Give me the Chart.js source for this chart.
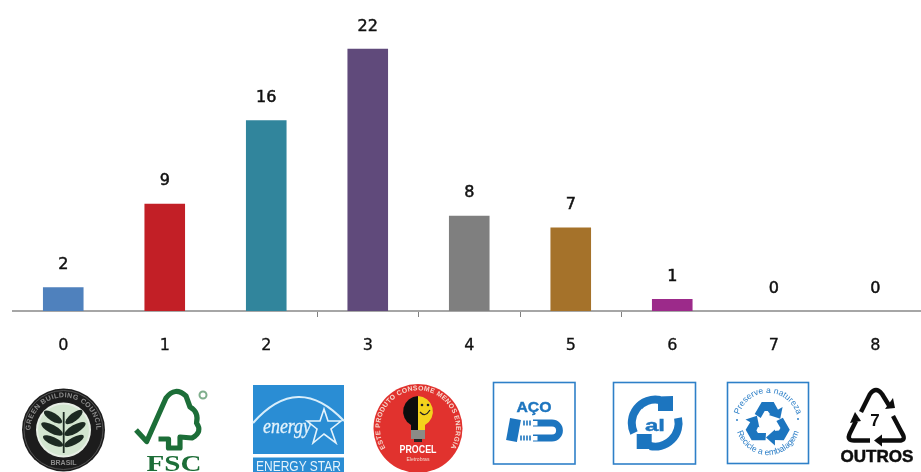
<!DOCTYPE html>
<html><head><meta charset="utf-8">
<style>
html,body{margin:0;padding:0;background:#fff;width:921px;height:472px;overflow:hidden}
#c{position:absolute;left:0;top:0;filter:blur(0.35px)}
#logos{position:absolute;left:0;top:0}
</style>
<script src="https://cdn.jsdelivr.net/npm/chart.js@4"></script>
</head><body>
<canvas id="c" width="930" height="372"></canvas>
<svg id="logos" width="921" height="472" viewBox="0 0 921 472" xmlns="http://www.w3.org/2000/svg">
<defs>
<filter id="b1" x="-10%" y="-10%" width="120%" height="120%"><feGaussianBlur stdDeviation="0.7"/></filter>
<filter id="b2" x="-10%" y="-10%" width="120%" height="120%"><feGaussianBlur stdDeviation="0.35"/></filter>
<path id="gbcTop" d="M35 447 A33 33 0 1 1 92 447"/>
<path id="procTop" d="M390 454 A38 38 0 1 1 446 454"/>
<path id="recTop" d="M738 423 A30 30 0 0 1 798 423"/>
<path id="recBot" d="M736 423 A32 32 0 0 0 800 423"/>
<g id="recArm" fill="#1f75bf">
<path d="M-13 -10 L-6 -22 L6 -22 L11 -13 L3 -9 L0 -13 L-3 -13 L-7 -6 Z"/>
<path d="M14.9 -17 L1.1 -9 L12.5 -5.2 Z"/>
</g>
</defs>
<g filter="url(#b1)">
<!-- Green Building Council -->
<circle cx="63.5" cy="430" r="41.5" fill="#1e1e1e"/>
<circle cx="63.5" cy="430" r="39.5" fill="none" stroke="#5f5f5f" stroke-width="0.8"/>
<circle cx="63.5" cy="430" r="27.5" fill="#e8efe6"/>
<circle cx="63.5" cy="430" r="25.5" fill="#d3e6d0"/>
<text font-family="Liberation Sans" font-size="7" font-weight="bold" fill="#8c8c8c" letter-spacing="0.4"><textPath href="#gbcTop" startOffset="50%" text-anchor="middle">GREEN BUILDING COUNCIL</textPath></text>
<text x="63.5" y="465" text-anchor="middle" font-family="Liberation Sans" font-size="7" font-weight="bold" fill="#8c8c8c">BRASIL</text>
<g fill="#1e2c22">
<path d="M62.8 412 L64.6 412 L64.6 453 L62.8 453 Z"/>
<ellipse cx="53" cy="417" rx="10.5" ry="4" transform="rotate(32 53 417)"/>
<ellipse cx="74" cy="417" rx="10.5" ry="4" transform="rotate(-38 74 417)"/>
<ellipse cx="52" cy="429" rx="12" ry="4.2" transform="rotate(28 52 429)"/>
<ellipse cx="75" cy="429" rx="12" ry="4.2" transform="rotate(-30 75 429)"/>
<ellipse cx="53" cy="441" rx="11" ry="3.8" transform="rotate(25 53 441)"/>
<ellipse cx="74" cy="441" rx="11" ry="3.8" transform="rotate(-28 74 441)"/>
</g>
<!-- Energy Star -->
<rect x="253" y="385" width="91" height="69" fill="#2a8dd4"/>
<rect x="253" y="457.5" width="91" height="14.5" fill="#2a8dd4"/>
<path d="M253 423 Q298 372 344 421" fill="none" stroke="#d8eefb" stroke-width="2.2"/>
<path d="M324 409 L328 421 L341 421 L331 429 L336 443 L324 434 L313 443 L317 429 L307 421 L320 421 Z" fill="none" stroke="#e4f3fc" stroke-width="1.6"/>
<text x="263" y="433" font-family="Liberation Serif" font-style="italic" font-size="20" fill="#e4f3fc" stroke="#e4f3fc" stroke-width="0.3" textLength="48" lengthAdjust="spacingAndGlyphs">energy</text>
<text x="256" y="471" font-family="Liberation Sans" font-size="15" fill="#e4f3fc" textLength="85" lengthAdjust="spacingAndGlyphs">ENERGY STAR</text>
<!-- Procel -->
<circle cx="418" cy="428.5" r="44.5" fill="#e1322e"/>
<text font-family="Liberation Sans" font-size="6.8" font-weight="bold" fill="#f6d9cf" letter-spacing="0.3"><textPath href="#procTop" startOffset="50%" text-anchor="middle">ESTE PRODUTO CONSOME MENOS ENERGIA</textPath></text>
<path d="M418 396 A15.5 15.5 0 0 0 411 425 L411 430 L418 430 Z" fill="#111"/>
<path d="M418 396 A15.5 15.5 0 0 1 425 425 L425 430 L418 430 Z" fill="#f4d31f"/>
<path d="M420 412 Q425 418 430 410" fill="none" stroke="#222" stroke-width="1.2"/>
<circle cx="422" cy="405" r="1.3" fill="#222"/><circle cx="428" cy="405" r="1.3" fill="#222"/>
<rect x="411" y="430" width="14" height="9" fill="#8b8b86"/>
<rect x="414" y="439" width="8" height="3" fill="#222"/>
<text x="418" y="453" text-anchor="middle" font-family="Liberation Sans" font-size="10.5" font-weight="bold" fill="#fff" textLength="37" lengthAdjust="spacingAndGlyphs">PROCEL</text>
<text x="418" y="461" text-anchor="middle" font-family="Liberation Sans" font-size="5" fill="#f6d9cf">Eletrobras</text>
</g>
<g filter="url(#b2)">
<!-- FSC -->
<path d="M136 430 L146.7 441.5 L166 398 Q175 386 186 396 L190 407 Q199 412 196.5 423 Q203 432 192 438 L180 437 L180 448 L168.5 448 L168.5 439 L158.5 439" fill="none" stroke="#1f6e38" stroke-width="5.2" stroke-linejoin="round"/>
<text x="174" y="471" text-anchor="middle" font-family="Liberation Serif" font-weight="bold" font-size="24" fill="#1f6e38" textLength="55" lengthAdjust="spacingAndGlyphs">FSC</text>
<circle cx="203" cy="395" r="3.5" fill="none" stroke="#7fae8c" stroke-width="2"/>
<!-- Aco -->
<rect x="493.5" y="382.5" width="81.5" height="81.5" fill="#fff" stroke="#2f80c8" stroke-width="1.6"/>
<text x="534" y="412" text-anchor="middle" font-family="Liberation Sans" font-size="14.5" font-weight="bold" fill="#1f75bf" stroke="#1f75bf" stroke-width="0.4" textLength="35" lengthAdjust="spacingAndGlyphs">AÇO</text>
<path d="M515.5 419 L511.5 441" stroke="#1f75bf" stroke-width="11" fill="none"/>
<path d="M533 423 H552 A7.5 7.5 0 0 1 552 438 H533" stroke="#1f75bf" stroke-width="6.8" fill="none"/>
<rect x="533" y="421" width="4.5" height="4.5" fill="#fff"/><rect x="533" y="436" width="4.5" height="4.5" fill="#fff"/>
<g stroke="#1f75bf" stroke-width="1.6">
<path d="M524 420.5 V425.5 M527 420.5 V425.5 M530 420.5 V425.5 M521 435.5 V440.5 M524 435.5 V440.5 M527 435.5 V440.5 M530 435.5 V440.5"/>
</g>
<!-- Al -->
<rect x="613.5" y="382.5" width="82" height="81.5" fill="#fff" stroke="#2f80c8" stroke-width="1.6"/>
<path d="M634 433 A23.5 23.5 0 0 1 660 400" fill="none" stroke="#1f75bf" stroke-width="8"/>
<path d="M658 396.5 L673 396 L673 411 L658 411 Z" fill="#1f75bf"/>
<path d="M678 418 A23.5 23.5 0 0 1 650 446" fill="none" stroke="#1f75bf" stroke-width="8"/>
<path d="M636.7 434 L651.7 434 L651.7 449 L636.7 449 Z" fill="#1f75bf"/>
<text x="655" y="431" text-anchor="middle" font-family="Liberation Sans" font-size="17" font-weight="bold" fill="#1f75bf" stroke="#1f75bf" stroke-width="0.4" textLength="20" lengthAdjust="spacingAndGlyphs">al</text>
<!-- Recycle -->
<rect x="727.5" y="382.5" width="81" height="81" fill="#fff" stroke="#2f80c8" stroke-width="1.6"/>
<text font-family="Liberation Sans" font-size="8.6" fill="#2f80c8"><textPath href="#recTop" startOffset="50%" text-anchor="middle">Preserve a natureza</textPath></text>
<text font-family="Liberation Sans" font-size="8.6" fill="#2f80c8"><textPath href="#recBot" startOffset="50%" text-anchor="middle">Recicle a embalagem</textPath></text>
<circle cx="737" cy="420" r="1" fill="#2f80c8"/><circle cx="798" cy="419" r="1" fill="#2f80c8"/>
<g transform="translate(767.7,424)">
<use href="#recArm"/><use href="#recArm" transform="rotate(120)"/><use href="#recArm" transform="rotate(240)"/>
</g>
<!-- Outros -->
<g fill="none" stroke="#111" stroke-width="4.4" stroke-linejoin="round">
<path d="M861 412 L870 394 Q876 386 882 394 L890 407"/>
<path d="M893 416 L902 433 Q907 441 898 440.5 L881 440.5"/>
<path d="M870 440.5 L855 440.5 Q846 441 850 433 L856 421"/>
</g>
<g fill="#111">
<path d="M885 409 L895 408 L893 398 Z"/>
<path d="M882 434.5 L882 446.5 L874 440.5 Z"/>
<path d="M850 423 L861 421 L855 412 Z"/>
</g>
<text x="875" y="426" text-anchor="middle" font-family="Liberation Sans" font-size="17" font-weight="bold" fill="#111">7</text>
<text x="877" y="461.5" text-anchor="middle" font-family="Liberation Sans" font-size="17" font-weight="bold" fill="#111" stroke="#111" stroke-width="0.5" textLength="73" lengthAdjust="spacingAndGlyphs">OUTROS</text>
</g>
</svg>
<script>
const categories = ['0', '1', '2', '3', '4', '5', '6', '7', '8'];
const counts = [2, 9, 16, 22, 8, 7, 1, 0, 0];
const barColors = ['#4f81bd', '#c21f26', '#31859c', '#604a7b', '#7f7f7f', '#a5722a', '#9c2a8a', '#4f81bd', '#4f81bd'];
const tickedBoundaries = [3, 4, 5, 6];

const valueLabels = {
  id: 'valueLabels',
  afterDatasetsDraw(chart) {
    const { ctx } = chart;
    const meta = chart.getDatasetMeta(0);
    ctx.save();
    ctx.font = '16px "DejaVu Sans"';
    ctx.fillStyle = '#111';
    ctx.strokeStyle = '#111';
    ctx.lineWidth = 0.5;
    ctx.textAlign = 'center';
    ctx.textBaseline = 'middle';
    meta.data.forEach((bar, i) => {
      ctx.fillText(String(counts[i]), bar.x, bar.y - 22.5);
      ctx.strokeText(String(counts[i]), bar.x, bar.y - 22.5);
    });
    ctx.restore();
  }
};

new Chart(document.getElementById('c'), {
  type: 'bar',
  data: {
    labels: categories,
    datasets: [{ data: counts, backgroundColor: barColors, barPercentage: 0.4, categoryPercentage: 1 }]
  },
  plugins: [valueLabels],
  options: {
    responsive: false,
    animation: false,
    layout: { padding: { left: 12.5, right: 4, top: 0, bottom: 0 } },
    plugins: { legend: { display: false }, tooltip: { enabled: false } },
    scales: {
      y: { display: false, min: 0, max: 26.1 },
      x: {
        afterFit(scale) { scale.height = 61; },
        border: { color: '#a6a6a6', width: 2 },
        grid: {
          drawOnChartArea: false,
          tickLength: 6,
          tickWidth: 1,
          tickColor: ctx => tickedBoundaries.includes(ctx.index) ? '#808080' : 'rgba(0,0,0,0)'
        },
        ticks: {
          color: '#111',
          padding: 19,
          maxRotation: 0,
          textStrokeColor: '#111',
          textStrokeWidth: 0.3,
          font: { family: '"DejaVu Sans"', size: 16 }
        }
      }
    }
  }
});
</script>
</body></html>
